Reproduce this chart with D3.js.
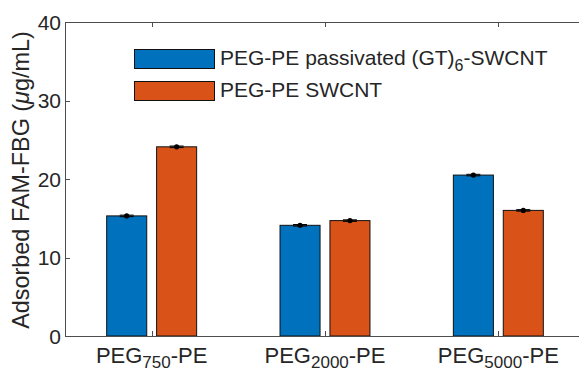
<!DOCTYPE html>
<html>
<head>
<meta charset="utf-8">
<script src="https://cdn.jsdelivr.net/npm/d3@7"></script>
<style>
  html, body { margin: 0; padding: 0; background: #fff; }
  svg { display: block; font-family: "Liberation Sans", Arial, Helvetica, sans-serif; }
</style>
</head>
<body>
<svg id="chart" width="579" height="371"></svg>
<script>
// Adsorbed FAM-FBG per PEG-PE variant
const categories = ["750", "2000", "5000"];          // PEG chain length (subscript)
const seriesNames = ["PEG-PE passivated (GT)6-SWCNT", "PEG-PE SWCNT"];
const passivated = [15.3, 14.1, 20.5];
const plain      = [24.1, 14.7, 16.0];
const passivatedErr = [0.1, 0.1, 0.1];
const plainErr      = [0.1, 0.1, 0.1];
const yTicks = [0, 10, 20, 30, 40];
const colors = ["#0072BD", "#D95319"];

const svg = d3.select("#chart");
const plot = { left: 65, top: 22, right: 585, bottom: 336 };
const axisColor = "#4d4d4d";
const textColor = "#262626";

const x = d3.scaleLinear().domain([0.5, 3.5]).range([plot.left, plot.right]);
const y = d3.scaleLinear().domain([0, 40]).range([plot.bottom, plot.top]);

// grouped-bar geometry in data units
const barW = 0.231;
const offsets = [-0.144, 0.144];

const series = [
  { name: seriesNames[0], values: passivated, err: passivatedErr, color: colors[0] },
  { name: seriesNames[1], values: plain, err: plainErr, color: colors[1] }
];

// bars
series.forEach((s, si) => {
  const g = svg.append("g");
  g.selectAll("rect").data(s.values).join("rect")
    .attr("x", (d, i) => x(i + 1 + offsets[si] - barW / 2))
    .attr("width", x(barW) - x(0))
    .attr("y", d => y(d))
    .attr("height", d => y(0) - y(d))
    .attr("fill", s.color)
    .attr("stroke", "#111")
    .attr("stroke-width", 1);
});

// error bars with markers
series.forEach((s, si) => {
  const g = svg.append("g");
  s.values.forEach((v, i) => {
    const cx = x(i + 1 + offsets[si]);
    const e = s.err[i];
    g.append("line").attr("x1", cx).attr("x2", cx)
      .attr("y1", y(v - e)).attr("y2", y(v + e))
      .attr("stroke", "#000").attr("stroke-width", 1);
    [v - e, v + e].forEach(t => {
      g.append("line").attr("x1", cx - 7).attr("x2", cx + 7)
        .attr("y1", y(t)).attr("y2", y(t))
        .attr("stroke", "#000").attr("stroke-width", 1);
    });
    g.append("circle").attr("cx", cx).attr("cy", y(v)).attr("r", 2.6).attr("fill", "#000");
  });
});

// axes box
const box = svg.append("g").attr("fill", "none").attr("stroke", axisColor).attr("stroke-width", 1);
box.append("line").attr("x1", plot.left).attr("x2", plot.right).attr("y1", plot.bottom + 0.5).attr("y2", plot.bottom + 0.5);
box.append("line").attr("x1", plot.left).attr("x2", plot.right).attr("y1", plot.top + 0.5).attr("y2", plot.top + 0.5);
box.append("line").attr("x1", plot.left + 0.5).attr("x2", plot.left + 0.5).attr("y1", plot.top).attr("y2", plot.bottom);
box.append("line").attr("x1", plot.right - 0.5).attr("x2", plot.right - 0.5).attr("y1", plot.top).attr("y2", plot.bottom);

// inward ticks
const tl = 5;
categories.forEach((c, i) => {
  const px = Math.round(x(i + 1)) + 0.5;
  box.append("line").attr("x1", px).attr("x2", px).attr("y1", plot.bottom).attr("y2", plot.bottom - tl);
  box.append("line").attr("x1", px).attr("x2", px).attr("y1", plot.top).attr("y2", plot.top + tl);
});
yTicks.forEach(t => {
  const py = Math.round(y(t)) + 0.5;
  box.append("line").attr("x1", plot.left).attr("x2", plot.left + tl).attr("y1", py).attr("y2", py);
  box.append("line").attr("x1", plot.right).attr("x2", plot.right - tl).attr("y1", py).attr("y2", py);
});

// y tick labels
svg.append("g").selectAll("text").data(yTicks).join("text")
  .attr("x", plot.left - 4)
  .attr("y", d => y(d))
  .attr("dy", "0.36em")
  .attr("text-anchor", "end")
  .attr("font-size", 21)
  .attr("fill", textColor)
  .text(d => d);

// x tick labels: PEG<sub>n</sub>-PE
categories.forEach((c, i) => {
  const t = svg.append("text")
    .attr("x", x(i + 1))
    .attr("y", 363)
    .attr("text-anchor", "middle")
    .attr("font-size", 22)
    .attr("fill", textColor);
  t.append("tspan").text("PEG");
  t.append("tspan").attr("dy", 5).attr("font-size", 17).text(c);
  t.append("tspan").attr("dy", -5).text("-PE");
});

// y axis title
const yl = svg.append("text")
  .attr("transform", `translate(28.5,${(plot.top + plot.bottom) / 2 + 1}) rotate(-90)`)
  .attr("text-anchor", "middle")
  .attr("font-size", 23.4)
  .attr("fill", textColor);
yl.append("tspan").text("Adsorbed FAM-FBG (");
yl.append("tspan").attr("font-style", "italic").text("\u03bc");
yl.append("tspan").text("g/mL)");

// legend
const leg = svg.append("g");
const legRows = [
  { y: 49, color: colors[0], label: ["PEG-PE passivated (GT)", "6", "-SWCNT"] },
  { y: 81, color: colors[1], label: ["PEG-PE SWCNT"] }
];
legRows.forEach(r => {
  leg.append("rect").attr("x", 134.5).attr("y", r.y + 0.5).attr("width", 80).attr("height", 19)
    .attr("fill", r.color).attr("stroke", "#111").attr("stroke-width", 1);
  const t = leg.append("text").attr("x", 220).attr("y", r.y + 16)
    .attr("font-size", 21).attr("fill", textColor);
  t.append("tspan").text(r.label[0]);
  if (r.label.length > 1) {
    t.append("tspan").attr("dy", 6).attr("font-size", 16).text(r.label[1]);
    t.append("tspan").attr("dy", -6).text(r.label[2]);
  }
});
</script>
</body>
</html>
